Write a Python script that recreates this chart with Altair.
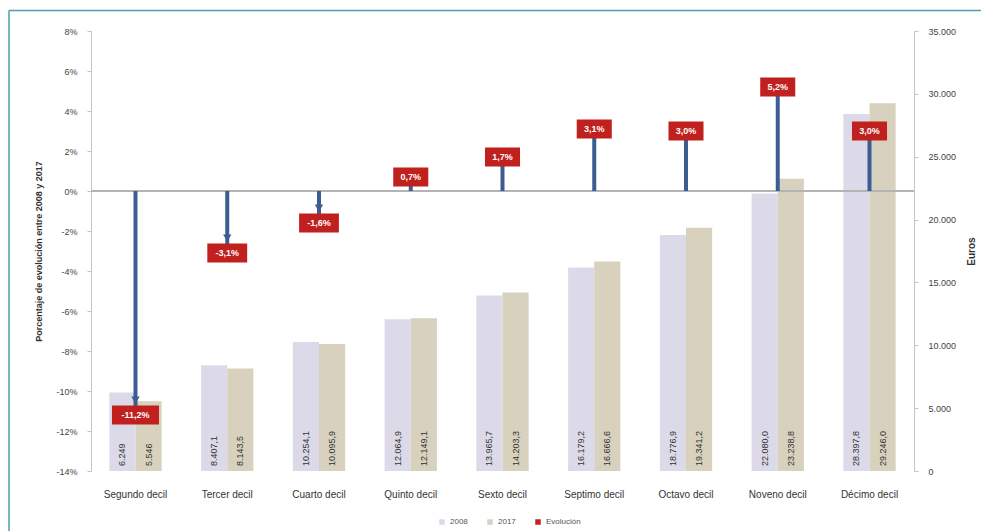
import altair as alt
import pandas as pd

# Renta media por decil (euros) y su evolución entre 2008 y 2017
categorias = ["Segundo decil", "Tercer decil", "Cuarto decil", "Quinto decil", "Sexto decil",
              "Septimo decil", "Octavo decil", "Noveno decil", "Décimo decil"]
renta_2008 = [6249, 8407.1, 10254.1, 12064.9, 13965.7, 16179.2, 18776.9, 22080.0, 28397.8]
renta_2017 = [5546, 8143.5, 10095.9, 12149.1, 14203.3, 16666.6, 19341.2, 23238.8, 29246.0]
evolucion = [-11.2, -3.1, -1.6, 0.7, 1.7, 3.1, 3.0, 5.2, 3.0]
series = ["2008", "2017", "Evolución"]
colores = ["#dcdae9", "#d8d1bd", "#c0201e"]

FUENTE = "Liberation Sans"


def formato_euros(v):
    s = f"{v:,}" if isinstance(v, int) else f"{v:,.1f}"
    return s.replace(",", "#").replace(".", ",").replace("#", ".")


def formato_pct(v):
    return f"{v:.1f}".replace(".", ",") + "%"


filas = []
for cat, a, b in zip(categorias, renta_2008, renta_2017):
    filas.append({"categoria": cat, "serie": "2008", "euros": a, "etiqueta": formato_euros(a), "base": 0})
    filas.append({"categoria": cat, "serie": "2017", "euros": b, "etiqueta": formato_euros(b), "base": 0})
barras_df = pd.DataFrame(filas)

evo_df = pd.DataFrame({
    "categoria": categorias,
    "evolucion": evolucion,
    "etiqueta": [formato_pct(v) for v in evolucion],
    "serie": "Evolución",
    "cero": 0,
})
evo_df["ancho"] = evo_df["etiqueta"].str.len().astype(str)

W, H = 823, 440
PAD_L, PAD_T = 91, 31
PAD_R, PAD_B = 981 - PAD_L - W, 531 - PAD_T - H

x_scale = alt.Scale(domain=categorias, paddingInner=0.43, paddingOuter=0.2)
color_scale = alt.Scale(domain=series, range=colores)
off_scale = alt.Scale(domain=["2008", "2017"], paddingInner=0)

x_axis = alt.Axis(labelAngle=0, ticks=False, domain=False, labelPadding=18,
                  labelFontSize=10, labelColor="#333333", labelFont=FUENTE)

# Barras de renta (eje derecho)
barras = alt.Chart(barras_df).mark_bar().encode(
    x=alt.X("categoria:N", scale=x_scale, sort=categorias, title=None, axis=x_axis),
    xOffset=alt.XOffset("serie:N", scale=off_scale),
    y=alt.Y("euros:Q", scale=alt.Scale(domain=[0, 35000], nice=False),
            axis=alt.Axis(orient="right", values=list(range(0, 35001, 5000)),
                          labelExpr="replace(format(datum.value, ','), ',', '.')",
                          labelPadding=10,
                          title="Euros", titleAngle=270, titlePadding=21, titleFontSize=10,
                          titleFont=FUENTE, titleColor="#333333",
                          labelFontSize=9, labelFont=FUENTE, labelColor="#444444",
                          domainColor="#c4c4c4", tickColor="#c4c4c4", tickSize=4, grid=False)),
    color=alt.Color("serie:N", scale=color_scale,
                    legend=alt.Legend(title=None, orient="none", direction="horizontal",
                                      legendX=347, legendY=487, symbolType="square",
                                      symbolSize=30, labelFontSize=8, labelFont=FUENTE,
                                      labelColor="#555555", columnPadding=18)),
)

textos_barras = alt.Chart(barras_df).mark_text(
    angle=270, align="left", baseline="middle", dx=5, fontSize=9, font=FUENTE, color="#333333"
).encode(
    x=alt.X("categoria:N", sort=categorias),
    xOffset=alt.XOffset("serie:N"),
    y=alt.Y("base:Q"),
    text="etiqueta:N",
)

grupo_barras = alt.layer(barras, textos_barras)

# Evolución porcentual (eje izquierdo)
y_pct = alt.Scale(domain=[-14, 8], nice=False)
eje_pct = alt.Axis(orient="left", values=list(range(-14, 9, 2)),
                   labelExpr="replace(format(datum.value, 'd'), '\u2212', '-') + '%'",
                   labelOverlap=False, labelPadding=10,
                   title="Porcentaje de evolución entre 2008 y 2017",
                   titleFontSize=9, titleFont=FUENTE, titleFontWeight="bold",
                   titleColor="#333333", titlePadding=12,
                   labelFontSize=9, labelFont=FUENTE, labelColor="#444444",
                   domainColor="#c4c4c4", tickColor="#c4c4c4", tickSize=4, grid=False)

linea_cero = alt.Chart(evo_df).mark_rule(color="#b3b3b3", strokeWidth=1).encode(
    y=alt.Y("cero:Q", scale=y_pct, axis=eje_pct),
)

flechas = alt.Chart(evo_df).mark_rule(color="#3b5d91", strokeWidth=4).encode(
    x=alt.X("categoria:N", sort=categorias),
    y=alt.Y("cero:Q", axis=eje_pct),
    y2="evolucion:Q",
)

puntas = alt.Chart(evo_df).transform_filter("datum.evolucion < 0").mark_point(
    shape="triangle-down", filled=True, opacity=1, size=70, yOffset=-15, color="#3b5d91"
).encode(
    x=alt.X("categoria:N", sort=categorias),
    y=alt.Y("evolucion:Q", axis=eje_pct),
)

formas = {
    "4": "M-0.73,-0.4L0.73,-0.4L0.73,0.4L-0.73,0.4Z",
    "5": "M-0.83,-0.4L0.83,-0.4L0.83,0.4L-0.83,0.4Z",
    "6": "M-0.98,-0.4L0.98,-0.4L0.98,0.4L-0.98,0.4Z",
}
cajas = alt.Chart(evo_df).mark_point(filled=True, opacity=1, size=2304, strokeWidth=0).encode(
    x=alt.X("categoria:N", sort=categorias),
    y=alt.Y("evolucion:Q", axis=eje_pct),
    color=alt.Color("serie:N"),
    shape=alt.Shape("ancho:N", scale=alt.Scale(domain=list(formas.keys()), range=list(formas.values())),
                    legend=None),
)

textos_evo = alt.Chart(evo_df).mark_text(
    color="white", fontSize=9, fontWeight="bold", font=FUENTE, baseline="middle"
).encode(
    x=alt.X("categoria:N", sort=categorias),
    y=alt.Y("evolucion:Q", axis=eje_pct),
    text="etiqueta:N",
)

grupo_evo = alt.layer(linea_cero, flechas, puntas, cajas, textos_evo)

# Marco exterior: bordes superior e izquierdo, hasta el límite del lienzo
marco_df = pd.DataFrame({"a": [0]})
marco_sup = alt.Chart(marco_df).mark_rule(color="#4f9dab", strokeWidth=1.5).encode(
    x=alt.value(9 - PAD_L), x2=alt.value(W + PAD_R), y=alt.value(10.5 - PAD_T))
marco_izq = alt.Chart(marco_df).mark_rule(color="#4f9dab", strokeWidth=1.5).encode(
    x=alt.value(9 - PAD_L), y=alt.value(10.5 - PAD_T), y2=alt.value(H + PAD_B))

chart = alt.layer(grupo_barras, grupo_evo, marco_sup, marco_izq).resolve_scale(
    y="independent"
).properties(
    width=W, height=H,
    autosize=alt.AutoSizeParams(type="none"),
    padding={"left": PAD_L, "top": PAD_T, "right": PAD_R, "bottom": PAD_B},
    background="white",
).configure_view(stroke=None).configure_axis(labelOverlap=False)

chart.save("out.html", embed_options={"renderer": "svg", "actions": False})
